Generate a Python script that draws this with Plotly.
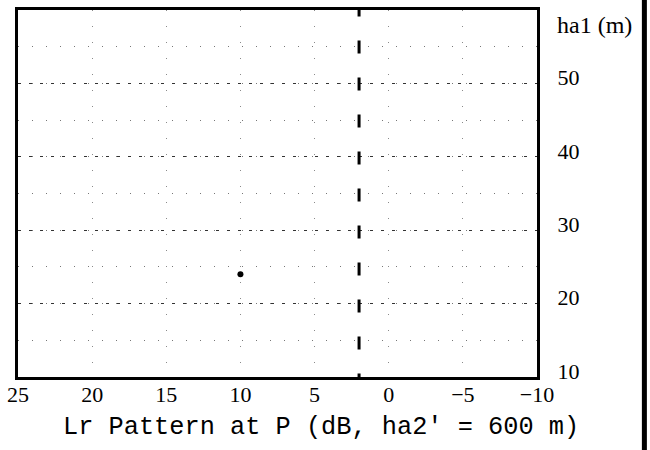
import plotly.graph_objects as go

# Level pattern at P versus antenna height ha1
x_ticks = [25, 20, 15, 10, 5, 0, -5, -10]
y_ticks = [10, 20, 30, 40, 50]
x_range = [25, -10]
y_range = [10, 60]

# reference level marked by the dashed vertical line (dB)
ref_level = 2
# plotted observation
obs_level = [10]
obs_height = [24]

fig = go.Figure()

# dashed reference line across the full height
fig.add_trace(go.Scatter(
    x=[ref_level, ref_level], y=[8.7, 61],
    mode="lines", line=dict(color="black", width=3, dash="13px,24px"),
    hoverinfo="skip", showlegend=False,
))

fig.add_trace(go.Scatter(
    x=obs_level, y=obs_height, mode="markers",
    marker=dict(color="black", size=6),
    showlegend=False,
))

tick_font = dict(family="Liberation Serif", size=22, color="black")

fig.update_xaxes(
    range=x_range, tickvals=x_ticks, ticks="",
    showline=True, linecolor="black", linewidth=3, mirror=True,
    showgrid=True, gridcolor="#8a8a8a", gridwidth=1, griddash="1px,15px",
    zeroline=False, tickfont=tick_font, ticklabelstandoff=-4,
)
fig.update_yaxes(
    range=y_range, tickvals=y_ticks, ticks="", side="right",
    showline=True, linecolor="black", linewidth=3, mirror=True,
    showgrid=True, gridcolor="#333333", gridwidth=1, griddash="3px,8px",
    minor=dict(tickmode="linear", tick0=0, dtick=5, showgrid=True,
               gridcolor="#777777", gridwidth=1, griddash="1px,13px"),
    zeroline=False, tickfont=tick_font, ticklabelstandoff=13, ticklabelshift=-6,
)

fig.add_annotation(
    text="Lr Pattern at P (dB, ha2' = 600 m)",
    xref="paper", yref="paper", x=0.584, y=-0.138,
    xanchor="center", yanchor="middle", showarrow=False,
    font=dict(family="Liberation Mono", size=25.3, color="black"),
)
fig.add_annotation(
    text="ha1 (m)",
    xref="paper", yref="paper", x=1.0345, y=0.959,
    xanchor="left", yanchor="middle", showarrow=False,
    font=dict(family="Liberation Serif", size=24, color="black"),
)

# page edge rule on the right
fig.add_shape(type="line", xref="paper", yref="paper",
              x0=1.2069, x1=1.2069, y0=-0.2, y1=1.03,
              line=dict(color="black", width=5))

fig.update_layout(
    width=650, height=450,
    margin=dict(l=15, r=113, t=7, b=73),
    paper_bgcolor="white", plot_bgcolor="white",
    showlegend=False,
)

fig.write_html("out.html")
